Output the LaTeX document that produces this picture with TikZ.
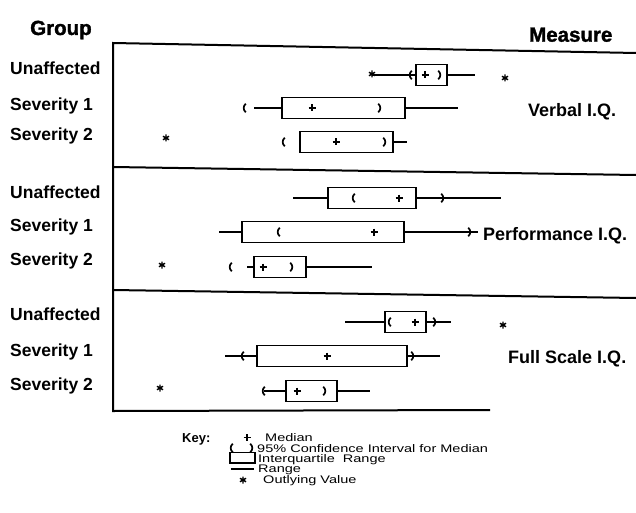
\documentclass[tikz,border=0pt]{standalone}
\usepackage{fontspec}
\setmainfont{Liberation Sans}
\newfontfamily\keyfont[FakeStretch=1.32]{Liberation Sans}
\newfontfamily\headfont[FakeBold=1.5]{Liberation Sans Bold}

\begin{document}
\begin{tikzpicture}[x=1pt,y=-1pt,
	headtext/.style={font=\headfont\fontsize{20.5}{23}\selectfont,inner sep=0pt},
	grp/.style={font=\fontsize{17.5}{20}\selectfont\bfseries,inner sep=0pt},
	msr/.style={font=\fontsize{18}{20}\selectfont\bfseries,inner sep=0pt},
	keytext/.style={font=\keyfont\fontsize{11}{12}\selectfont,inner sep=0pt},
	panelframe/.style={line width=2pt},
	rangeline/.style={line width=1.3pt},
	iqrbox/.style={line width=1.5pt},
	markline/.style={line width=1.7pt},
	med/.pic={\draw[markline] (-3.5,0) -- (3.5,0) (0,-3.5) -- (0,3.5);},
	outl/.pic={\draw[line width=1.4pt] (90:3.5) -- (270:3.5) (30:3.5) -- (210:3.5) (150:3.5) -- (330:3.5);},
	cil/.pic={\draw[markline] (1.8,-4.3) .. controls (-1,-2) and (-1,2) .. (1.8,4.3);},
	cir/.pic={\draw[markline] (-1.8,-4.3) .. controls (1,-2) and (1,2) .. (-1.8,4.3);}]
	\useasboundingbox (0,0) rectangle (636,513);
	\node[headtext,anchor=base west] (group) at (30,35) {Group};
	\node[headtext,anchor=base west] (measure) at (529,41.7) {Measure};
	% panels
	\draw[panelframe] (636,53) -- (113,43) -- (113,411) -- (490,410);
	\draw[panelframe] (113,167) -- (636,175);
	\draw[panelframe] (113,290) -- (636,298);
	\foreach \t/\y [count=\i] in {Unaffected/75,Severity 1/111,Severity 2/141,
		Unaffected/198.5,Severity 1/231,Severity 2/265,
		Unaffected/320,Severity 1/356,Severity 2/390}
	{ \node[grp,anchor=base west] (row\i) at (10,\y) {\t};
	}
	\node[msr,anchor=base west] (verbal) at (528,116.7) {Verbal I.Q.};
	\node[msr,anchor=base west] (perf) at (483,240) {Performance I.Q.};
	\node[msr,anchor=base west] (full) at (508,363) {Full Scale I.Q.};
	% boxes: y / range low / box low / box high / range high / ci low / ci high / median
	\foreach \y/\wl/\bl/\bh/\wh/\cl/\ch/\md in {75/372/416/447/475/410/440/425,
		108/254/282/405/458/244/380/312, 142/300/300/393/407/283/385/336,
		198/293/328/416/501/353/443/399, 232/219/242/404/478/278/470/374,
		267/247/254/306/372/230/292/263, 322/345/385/426/451/389/435/415,
		356/225/257/407/440/242/413/327, 391/264/286/337/370/263/325/297}
	{ \draw[rangeline] (\wl,\y) -- (\bl,\y) (\bh,\y) -- (\wh,\y);
		\draw[iqrbox] (\bl,\y-10.5) rectangle (\bh,\y+10.5);
		\pic at (\cl,\y) {cil};
		\pic at (\ch,\y) {cir};
		\pic at (\md,\y) {med};
	}
	\foreach \x/\y in {372/74,505/78,166/138,162/265,503/325,160/388}
	{ \pic at (\x,\y) {outl};
	}
	% key
	\node[font=\fontsize{13}{15}\selectfont\bfseries,inner sep=0pt,anchor=base west] (key) at (182,442) {Key:};
	\pic at (247,437.5) {med};
	\node[keytext,anchor=base west] (kmed) at (265,441.5) {Median};
	\pic at (231,448) {cil};
	\pic at (252,448) {cir};
	\node[keytext,anchor=base west] (kci) at (257,452.5) {95\% Confidence Interval for Median};
	\draw[iqrbox] (230,452.5) rectangle (255,463);
	\node[keytext,anchor=base west] (kiqr) at (258,462) {Interquartile\ \ Range};
	\draw[rangeline] (231,469) -- (254,469);
	\node[keytext,anchor=base west] (krange) at (258,472.5) {Range};
	\pic at (243,480) {outl};
	\node[keytext,anchor=base west] (kout) at (263,483.5) {Outlying Value};
\end{tikzpicture}
\end{document}
